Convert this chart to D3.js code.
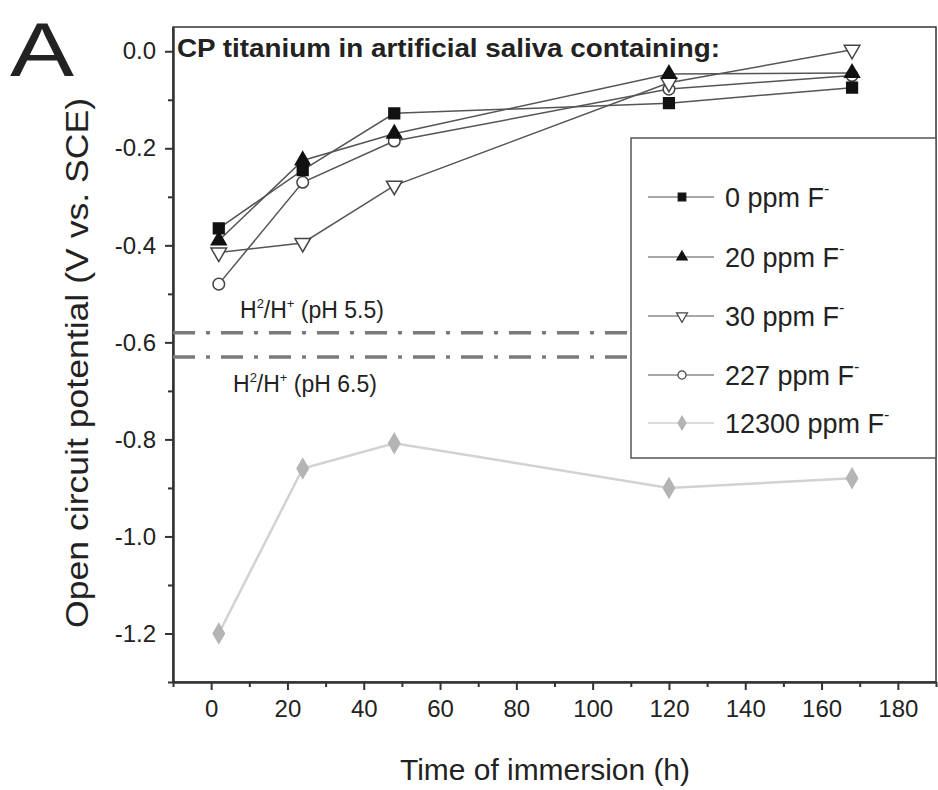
<!DOCTYPE html>
<html lang="en">
<head>
<meta charset="utf-8">
<script src="https://d3js.org/d3.v7.min.js"></script>
<style>
  body { margin: 0; background: #fff; }
  text { font-family: Arial, "Liberation Sans", sans-serif; fill: #222; }
</style>
</head>
<body>
<script>

var width = 938,
    height = 790;

// data
var times = [2, 24, 48, 120, 168];
var ppm0 = [-0.365, -0.245, -0.128, -0.107, -0.075];
var ppm20 = [-0.39, -0.225, -0.17, -0.047, -0.045];
var ppm30 = [-0.415, -0.395, -0.277, -0.065, 0.003];
var ppm227 = [-0.48, -0.27, -0.185, -0.078, -0.05];
var ppm12300 = [-1.2, -0.86, -0.808, -0.9, -0.88];
var seriesLabels = ["0 ppm F", "20 ppm F", "30 ppm F", "227 ppm F", "12300 ppm F"];
var refLevels = [-0.58, -0.63];
var refPh = ["5.5", "6.5"];
var xTicks = [0, 20, 40, 60, 80, 100, 120, 140, 160, 180];
var yTicks = [0, -0.2, -0.4, -0.6, -0.8, -1.0, -1.2];

var series = [
  { label: seriesLabels[0], values: ppm0, sym: d3.symbolSquare, size: 115, fill: "#111", stroke: "#111", rot: 0, line: "#555", lw: 1.5, legLine: "#8a8a8a" },
  { label: seriesLabels[1], values: ppm20, sym: d3.symbolTriangle, size: 95, fill: "#111", stroke: "#111", rot: 0, line: "#555", lw: 1.5, legLine: "#8a8a8a" },
  { label: seriesLabels[2], values: ppm30, sym: d3.symbolTriangle, size: 105, fill: "#fff", stroke: "#444", rot: 180, line: "#555", lw: 1.5, legLine: "#8a8a8a" },
  { label: seriesLabels[3], values: ppm227, sym: d3.symbolCircle, size: 105, fill: "#fff", stroke: "#444", rot: 0, line: "#555", lw: 1.5, legLine: "#8a8a8a" },
  { label: seriesLabels[4], values: ppm12300, sym: d3.symbolDiamond, size: 110, fill: "#b4b4b4", stroke: "#b4b4b4", rot: 0, line: "#d2d2d2", lw: 2.5, legLine: "#cfcfcf" }
];

var x = d3.scaleLinear().domain([-10, 190]).range([173, 936]);
var y = d3.scaleLinear().domain([0.05, -1.3]).range([27, 682]);

var svg = d3.select("body").append("svg")
    .attr("width", width)
    .attr("height", height);

function fmt(d) { return d3.format(".1f")(d).replace("\u2212", "-"); }

// frame
svg.append("rect")
    .attr("x", x(-10)).attr("y", y(0.05))
    .attr("width", x(190) - x(-10)).attr("height", y(-1.3) - y(0.05))
    .attr("fill", "none").attr("stroke", "#333").attr("stroke-width", 1.5);

// minor ticks
svg.append("g")
    .attr("transform", "translate(0," + y(-1.3) + ")")
    .call(d3.axisBottom(x).tickValues(d3.range(-10, 191, 20)).tickSize(5).tickFormat(""))
    .call(function(g) { g.select(".domain").remove(); g.selectAll("line").attr("stroke", "#333").attr("stroke-width", 2); });

svg.append("g")
    .attr("transform", "translate(" + x(-10) + ",0)")
    .call(d3.axisLeft(y).tickValues([-0.1, -0.3, -0.5, -0.7, -0.9, -1.1, -1.3]).tickSize(5).tickFormat(""))
    .call(function(g) { g.select(".domain").remove(); g.selectAll("line").attr("stroke", "#333").attr("stroke-width", 2); });

// major axes
svg.append("g")
    .attr("transform", "translate(0," + y(-1.3) + ")")
    .call(d3.axisBottom(x).tickValues(xTicks).tickSize(8).tickPadding(10).tickSizeOuter(0))
    .call(function(g) {
      g.select(".domain").attr("stroke", "#333").attr("stroke-width", 2.5);
      g.selectAll("line").attr("stroke", "#333").attr("stroke-width", 2);
      g.selectAll("text").attr("font-size", 24).attr("fill", "#222");
    });

svg.append("g")
    .attr("transform", "translate(" + x(-10) + ",0)")
    .call(d3.axisLeft(y).tickValues(yTicks).tickSize(8).tickPadding(9).tickSizeOuter(0).tickFormat(fmt))
    .call(function(g) {
      g.select(".domain").attr("stroke", "#333").attr("stroke-width", 2.5);
      g.selectAll("line").attr("stroke", "#333").attr("stroke-width", 2);
      g.selectAll("text").attr("font-size", 24).attr("fill", "#222");
    });

// reference lines (H2/H+)
svg.selectAll(".ref")
    .data(refLevels)
  .enter().append("line")
    .attr("class", "ref")
    .attr("x1", x(-10)).attr("x2", x(120))
    .attr("y1", function(d) { return y(d); })
    .attr("y2", function(d) { return y(d); })
    .attr("stroke", "#7a7a7a")
    .attr("stroke-width", 3.5)
    .attr("stroke-dasharray", "22,11,4,11");

var refText = svg.selectAll(".reflab")
    .data(refPh)
  .enter().append("text")
    .attr("class", "reflab")
    .attr("x", function(d, i) { return i === 0 ? 240 : 233; })
    .attr("y", function(d, i) { return i === 0 ? y(refLevels[0]) - 15 : y(refLevels[1]) + 35; })
    .attr("font-size", 23);
refText.append("tspan").text("H");
refText.append("tspan").attr("font-size", 13).attr("dy", -10).text("2");
refText.append("tspan").attr("dy", 10).text("/H");
refText.append("tspan").attr("font-size", 13).attr("dy", -10).text("+");
refText.append("tspan").attr("dy", 10).text(function(d) { return " (pH " + d + ")"; });

// series
var line = d3.line()
    .x(function(d, i) { return x(times[i]); })
    .y(function(d) { return y(d); });

var sg = svg.selectAll(".series")
    .data(series.slice().reverse())
  .enter().append("g")
    .attr("class", "series");

sg.append("path")
    .attr("d", function(s) { return line(s.values); })
    .attr("fill", "none")
    .attr("stroke", function(s) { return s.line; })
    .attr("stroke-width", function(s) { return s.lw; });

sg.each(function(s) {
  d3.select(this).selectAll("path.pt")
      .data(s.values)
    .enter().append("path")
      .attr("class", "pt")
      .attr("d", d3.symbol().type(s.sym).size(s.size))
      .attr("transform", function(d, i) { return "translate(" + x(times[i]) + "," + y(d) + ") rotate(" + s.rot + ")"; })
      .attr("fill", s.fill)
      .attr("stroke", s.stroke)
      .attr("stroke-width", 1.5);
});

// title inside plot
svg.append("text")
    .attr("x", 177).attr("y", 57)
    .attr("font-size", 25)
    .attr("font-weight", "bold")
    .attr("textLength", 543)
    .attr("lengthAdjust", "spacingAndGlyphs")
    .text("CP titanium in artificial saliva containing:");

// legend
var legend = svg.append("g");
legend.append("rect")
    .attr("x", 631).attr("y", 138)
    .attr("width", 936 - 631).attr("height", 320)
    .attr("fill", "#fff")
    .attr("stroke", "#555")
    .attr("stroke-width", 1.5);

var legY = [197, 257, 316, 375, 423];
var li = legend.selectAll(".li")
    .data(series)
  .enter().append("g")
    .attr("class", "li")
    .attr("transform", function(d, i) { return "translate(0," + legY[i] + ")"; });

li.append("line")
    .attr("x1", 648).attr("x2", 714)
    .attr("stroke", function(s) { return s.legLine; })
    .attr("stroke-width", 1.5);
li.append("path")
    .attr("d", function(s) { return d3.symbol().type(s.sym).size(s.size * 0.5)(); })
    .attr("transform", function(s) { return "translate(682,0) rotate(" + s.rot + ")"; })
    .attr("fill", function(s) { return s.fill; })
    .attr("stroke", function(s) { return s.stroke; })
    .attr("stroke-width", 1.2);
var lt = li.append("text")
    .attr("x", 725).attr("y", 10)
    .attr("font-size", 27);
lt.append("tspan").text(function(s) { return s.label; });
lt.append("tspan").attr("font-size", 16).attr("dy", -13).text("-");

// axis titles
svg.append("text")
    .attr("x", 545).attr("y", 780)
    .attr("text-anchor", "middle")
    .attr("font-size", 29)
    .attr("textLength", 290)
    .attr("lengthAdjust", "spacingAndGlyphs")
    .text("Time of immersion (h)");

svg.append("text")
    .attr("transform", "translate(88," + 363 + ") rotate(-90)")
    .attr("text-anchor", "middle")
    .attr("font-size", 31)
    .attr("textLength", 530)
    .attr("lengthAdjust", "spacingAndGlyphs")
    .text("Open circuit potential (V vs. SCE)");

// panel letter
svg.append("text")
    .attr("x", 10).attr("y", 76)
    .attr("font-size", 76)
    .attr("fill", "#111")
    .attr("textLength", 64)
    .attr("lengthAdjust", "spacingAndGlyphs")
    .text("A");

</script>
</body>
</html>
